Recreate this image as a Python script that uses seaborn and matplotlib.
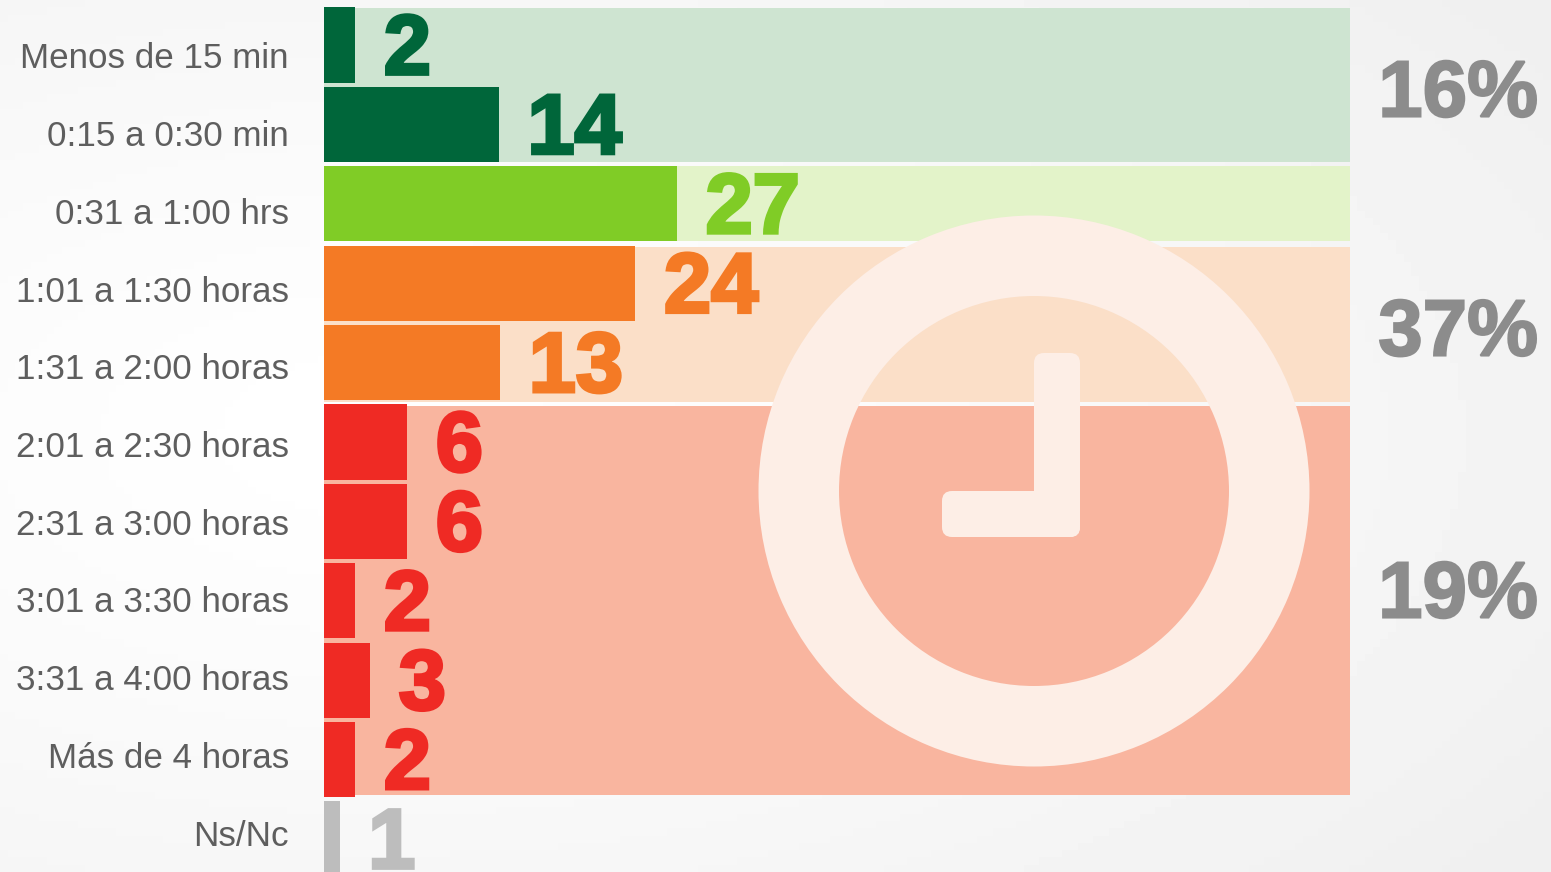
import matplotlib
matplotlib.use('Agg')
import matplotlib.pyplot as plt
import matplotlib.patheffects as pe
from matplotlib.patches import Wedge, Rectangle, FancyBboxPatch
from matplotlib.transforms import Affine2D
import numpy as np
import pandas as pd
import seaborn as sns

categories = ['Menos de 15 min', '0:15 a 0:30 min', '0:31 a 1:00 hrs', '1:01 a 1:30 horas',
              '1:31 a 2:00 horas', '2:01 a 2:30 horas', '2:31 a 3:00 horas', '3:01 a 3:30 horas',
              '3:31 a 4:00 horas', 'Más de 4 horas', 'Ns/Nc']
values = [2, 14, 27, 24, 13, 6, 6, 2, 3, 2, 1]
# bar lengths as drawn in the picture, not quite proportional to the labels
bar_lengths = [2.4, 13.45, 27.15, 23.95, 13.55, 6.4, 6.4, 2.4, 3.55, 2.4, 1.2]
group_labels = ['16%', '37%', '19%']

GREEN = '#00663a'
LIME = '#80cc26'
ORANGE = '#f47a25'
RED = '#ef2a24'
GREY = '#bdbdbd'
bar_colors = [GREEN, GREEN, LIME, ORANGE, ORANGE, RED, RED, RED, RED, RED, GREY]

W, H = 1551, 872
PX = 13.0   # pixels per unit on x
ROW = 79.4  # pixels per row


def x_of(px):
    return (px - 324) / PX


def y_of(py):
    return (py - 45) / ROW


sns.set_theme(style='white')
plt.rcParams['font.family'] = ['Liberation Sans', 'DejaVu Sans']

fig = plt.figure(figsize=(W / 100, H / 100), dpi=100)
ax = fig.add_axes([0, 0, 1, 1])

# page background
xx, yy = np.meshgrid(np.linspace(0, 1, 200), np.linspace(0, 1, 120))
bg = 1 - 0.06 * np.clip(np.hypot((xx - 0.25) / 0.9, (yy - 0.5) / 0.8), 0, 1) ** 1.3
ax.imshow(bg, cmap='gray', vmin=0, vmax=1, aspect='auto', zorder=0,
          extent=(x_of(0), x_of(W), y_of(H), y_of(0)))

# bands behind the bars
bands = [(8, 162, '#cee4d1'), (166, 241, '#e3f3c9'), (247, 402, '#fbdfc8'), (406, 795, '#f9b59f')]
for top, bottom, color in bands:
    ax.add_patch(Rectangle((0, y_of(top)), x_of(1350), y_of(bottom) - y_of(top),
                           fc=color, ec='none', zorder=1))

# clock, drawn in pixel units
CLOCK = '#fdeee6'
to_px = Affine2D().scale(1 / PX, 1 / ROW).translate(-324 / PX, -45 / ROW) + ax.transData
ring = Wedge((1034, 491), 275.5, 0, 360, width=80.5, fc=CLOCK, ec='none', zorder=2, transform=to_px)
ax.add_patch(ring)
for x0, y0, x1, y1 in [(1034, 353, 1080, 537), (942, 491, 1080, 537)]:
    hand = FancyBboxPatch((x0 + 10, y0 + 10), x1 - x0 - 20, y1 - y0 - 20,
                          boxstyle='round,pad=10,rounding_size=10', fc=CLOCK, ec='none',
                          zorder=2, transform=to_px)
    ax.add_patch(hand)

df = pd.DataFrame({'cat': categories, 'length': bar_lengths})
sns.barplot(data=df, y='cat', x='length', hue='cat', palette=bar_colors, legend=False,
            width=0.945, saturation=1, ax=ax, linewidth=0, edgecolor='none')
for bar in ax.patches:
    if bar.get_zorder() < 3 and bar.get_facecolor()[:3] in [matplotlib.colors.to_rgb(c) for c in bar_colors]:
        bar.set_zorder(3)

ax.set_xlim(x_of(0), x_of(W))
ax.set_ylim(y_of(H), y_of(0))
ax.axis('off')

# category labels sit on their own spacing, slightly tighter than the bars
for i, cat in enumerate(categories):
    ax.text(x_of(289), y_of(59 + 77.7 * i), cat, ha='right', va='center', fontsize=25.2,
            color='#5e5e5e', zorder=4)

# value labels
for i, (v, length, c) in enumerate(zip(values, bar_lengths, bar_colors)):
    ax.text(length + 2.2, i + 0.09, str(v), ha='left', va='center', fontsize=61, fontweight='bold',
            color=c, zorder=4,
            path_effects=[pe.withStroke(linewidth=2.5, foreground=c, joinstyle='miter')])

# group shares
for py, label in zip([96, 335, 597], group_labels):
    ax.text(x_of(1538), y_of(py), label, ha='right', va='center', fontsize=57.5, fontweight='bold',
            color='#8c8c8c', zorder=4,
            path_effects=[pe.withStroke(linewidth=1.5, foreground='#8c8c8c', joinstyle='miter')])

fig.savefig('out.png', dpi=100)
